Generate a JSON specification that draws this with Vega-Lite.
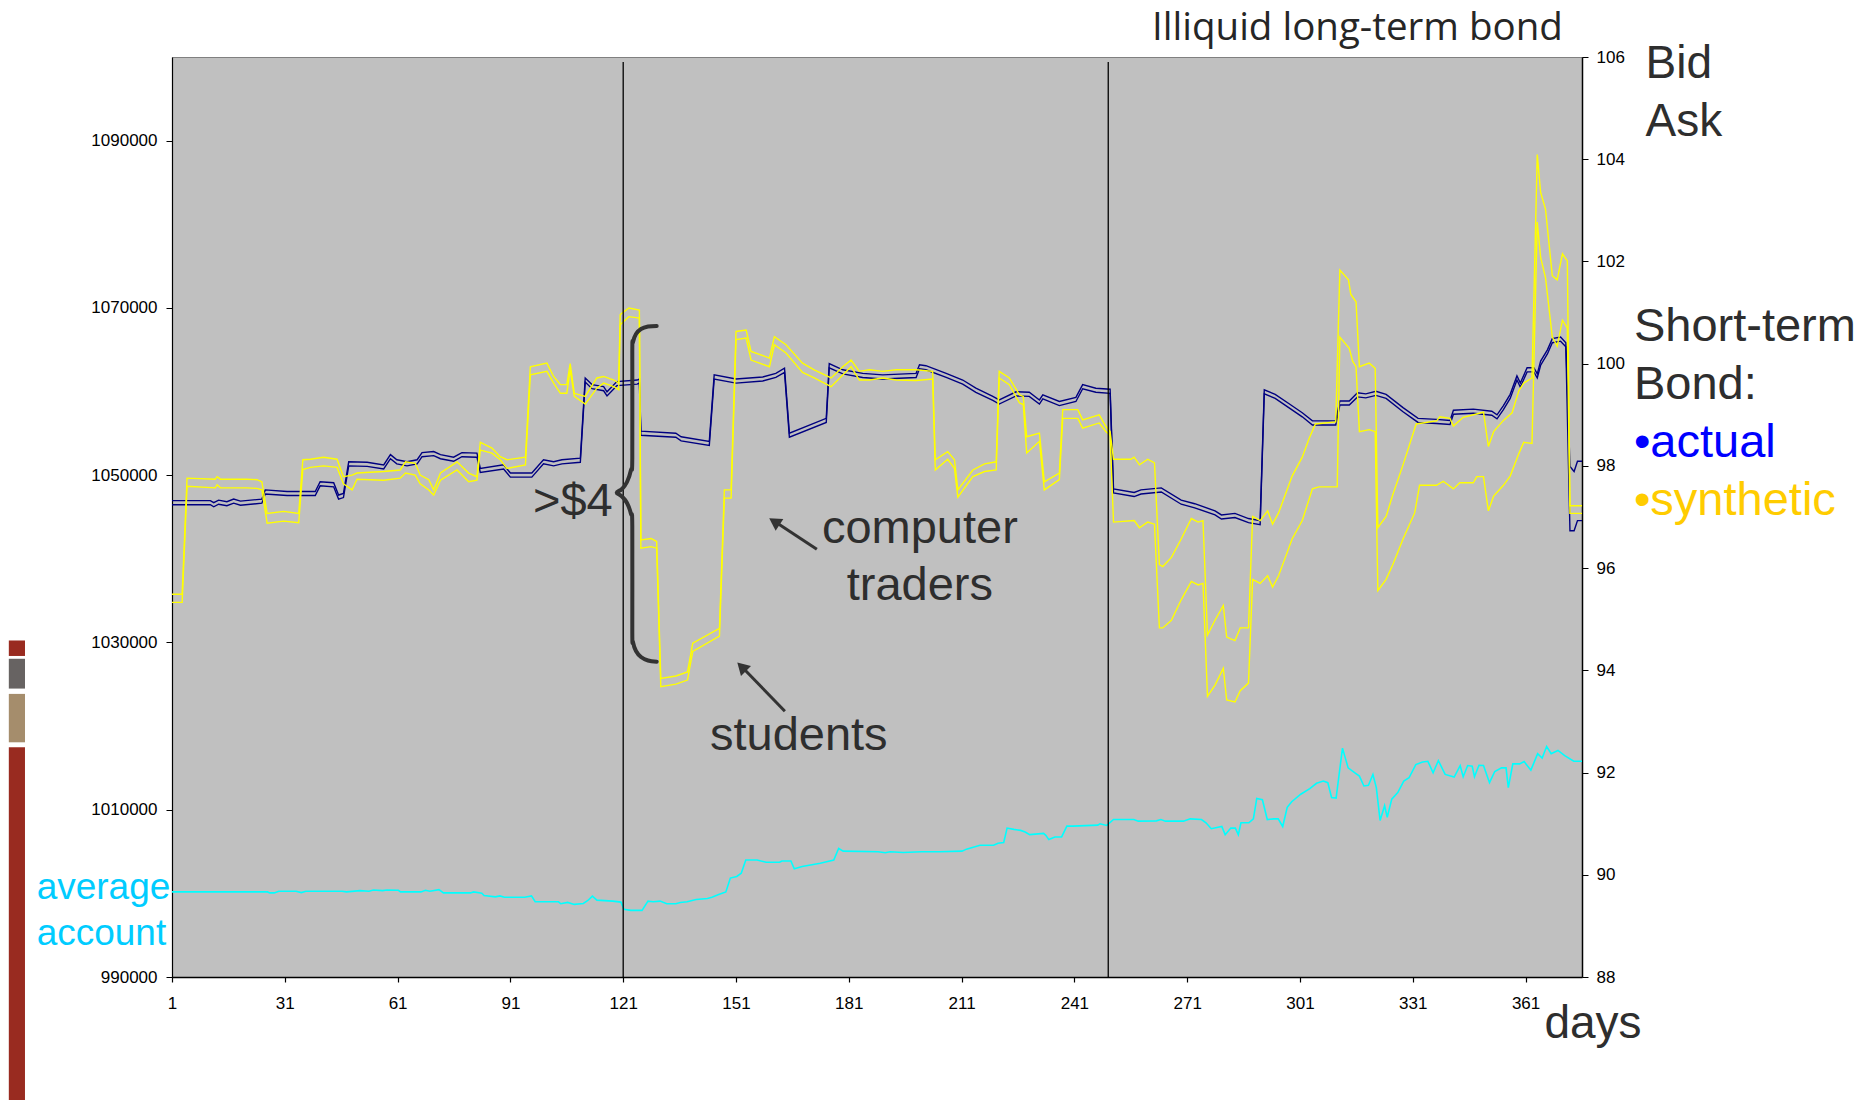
{
  "$schema": "https://vega.github.io/schema/vega-lite/v6.json",
  "width": 1410,
  "height": 920,
  "autosize": {"type": "none"},
  "padding": {"left": 172, "top": 57, "right": 286, "bottom": 123},
  "background": "white",
  "config": {
    "view": {"fill": "#C0C0C0", "stroke": "#808080", "strokeWidth": 1},
    "axis": {"grid": false, "domainColor": "#000000", "tickColor": "#000000", "labelColor": "#000000", "labelFont": "Liberation Sans", "labelFontSize": 17, "labelFlush": false, "labelOverlap": false},
    "axisX": {"tickSize": 5, "labelPadding": 13, "domainWidth": 1.5, "tickWidth": 1.2},
    "axisLeft": {"tickSize": 6, "labelPadding": 9, "domainWidth": 1.2},
    "axisRight": {"tickSize": 6, "labelPadding": 8, "domainWidth": 1.5},
    "text": {"font": "Liberation Sans"}
  },
  "datasets": {
    "account": [
      {"d":1,"a":1000174},{"d":26.4,"a":1000174},{"d":27,"a":1000056},{"d":28.2,"a":1000056},{"d":29.4,"a":1000253},{"d":34,"a":1000253},{"d":35.4,"a":1000096},{"d":36.6,"a":1000253},{"d":46.2,"a":1000253},{"d":47.4,"a":1000174},{"d":51,"a":1000330},{"d":53.4,"a":1000253},{"d":54.6,"a":1000410},{"d":57,"a":1000330},{"d":58.2,"a":1000410},{"d":61.2,"a":1000370},{"d":61.8,"a":1000174},{"d":67.2,"a":1000174},{"d":68.4,"a":1000370},{"d":69.6,"a":1000253},{"d":72,"a":1000450},{"d":73.2,"a":1000056},{"d":80.4,"a":1000056},{"d":81.2,"a":1000174},{"d":83.4,"a":1000017},{"d":84,"a":999740},{"d":87,"a":999583},{"d":88.2,"a":999701},{"d":89.4,"a":999543},{"d":94.8,"a":999543},{"d":96.6,"a":999701},{"d":97.6,"a":998993},{"d":103.8,"a":998993},{"d":104.4,"a":998757},{"d":106.2,"a":998914},{"d":108,"a":998679},{"d":110.4,"a":998796},{"d":111.6,"a":999150},{"d":112.8,"a":999662},{"d":114,"a":999190},{"d":118.2,"a":999072},{"d":120.4,"a":998954},{"d":121.2,"a":998089},{"d":123,"a":997970},{"d":126,"a":997970},{"d":127.6,"a":999072},{"d":129,"a":998993},{"d":130.8,"a":999072},{"d":132.6,"a":998757},{"d":135,"a":998757},{"d":136.2,"a":998914},{"d":138,"a":998993},{"d":140.4,"a":999269},{"d":143.4,"a":999387},{"d":144.6,"a":999543},{"d":146.4,"a":999859},{"d":148.3,"a":1000174},{"d":149.5,"a":1001826},{"d":151.2,"a":1002023},{"d":152.4,"a":1002416},{"d":153.6,"a":1003990},{"d":156.6,"a":1003990},{"d":159,"a":1003715},{"d":162.6,"a":1003715},{"d":163.2,"a":1003872},{"d":165.6,"a":1003872},{"d":166.5,"a":1002928},{"d":168.6,"a":1003203},{"d":173.4,"a":1003597},{"d":177,"a":1003990},{"d":178.3,"a":1005367},{"d":179.5,"a":1005052},{"d":188.8,"a":1004973},{"d":190.7,"a":1004855},{"d":192,"a":1004973},{"d":195.5,"a":1004894},{"d":200.3,"a":1004973},{"d":205.1,"a":1004973},{"d":211.1,"a":1005052},{"d":212.3,"a":1005288},{"d":214.1,"a":1005524},{"d":215.9,"a":1005760},{"d":219.5,"a":1005760},{"d":220.7,"a":1005996},{"d":222.2,"a":1006075},{"d":223.1,"a":1007806},{"d":224.9,"a":1007648},{"d":226.7,"a":1007530},{"d":227.9,"a":1007333},{"d":229.1,"a":1007019},{"d":232.8,"a":1007176},{"d":233.4,"a":1006940},{"d":234.2,"a":1006429},{"d":235.8,"a":1006744},{"d":237.6,"a":1006744},{"d":239,"a":1008042},{"d":240.6,"a":1008042},{"d":247.2,"a":1008160},{"d":247.8,"a":1008318},{"d":249.6,"a":1008121},{"d":251.4,"a":1008829},{"d":256.8,"a":1008829},{"d":258,"a":1008632},{"d":262.8,"a":1008671},{"d":264,"a":1008829},{"d":265.2,"a":1008632},{"d":270,"a":1008632},{"d":271.8,"a":1008908},{"d":274.8,"a":1008829},{"d":276,"a":1008435},{"d":277.4,"a":1007727},{"d":280.2,"a":1008003},{"d":281.1,"a":1007019},{"d":282.6,"a":1007806},{"d":283.8,"a":1007806},{"d":284.6,"a":1007019},{"d":285.3,"a":1008435},{"d":287.4,"a":1008435},{"d":288.6,"a":1008908},{"d":289.5,"a":1011346},{"d":291,"a":1011188},{"d":292.3,"a":1008829},{"d":294,"a":1008908},{"d":295.2,"a":1008908},{"d":296.4,"a":1007991},{"d":297.6,"a":1010284},{"d":298.8,"a":1010953},{"d":301.2,"a":1011857},{"d":303.6,"a":1012526},{"d":305.4,"a":1013156},{"d":307.2,"a":1013431},{"d":308.4,"a":1013234},{"d":309.4,"a":1011464},{"d":310.6,"a":1011385},{"d":312.3,"a":1017365},{"d":313.8,"a":1015005},{"d":315.6,"a":1014415},{"d":316.8,"a":1014021},{"d":318,"a":1012841},{"d":319.2,"a":1012920},{"d":320.4,"a":1014218},{"d":321.3,"a":1012645},{"d":322.3,"a":1008711},{"d":323.5,"a":1010481},{"d":324.2,"a":1009104},{"d":325.4,"a":1011267},{"d":327,"a":1012054},{"d":328.6,"a":1013431},{"d":330,"a":1013824},{"d":331.8,"a":1015398},{"d":333.6,"a":1015713},{"d":335,"a":1015792},{"d":336.4,"a":1014415},{"d":337.8,"a":1015870},{"d":339.6,"a":1014218},{"d":342,"a":1013903},{"d":343.6,"a":1015280},{"d":344.4,"a":1013942},{"d":345.6,"a":1015280},{"d":346.8,"a":1015202},{"d":347.4,"a":1013942},{"d":348.6,"a":1015320},{"d":349.8,"a":1015280},{"d":351.4,"a":1013234},{"d":352.8,"a":1014572},{"d":354.6,"a":1015005},{"d":355.8,"a":1015005},{"d":356.4,"a":1012645},{"d":357.6,"a":1015477},{"d":359.4,"a":1015477},{"d":360.6,"a":1015752},{"d":362.4,"a":1014730},{"d":364.2,"a":1016696},{"d":365.4,"a":1016185},{"d":366.6,"a":1017562},{"d":367.8,"a":1016696},{"d":369.6,"a":1017090},{"d":371.4,"a":1016460},{"d":373.8,"a":1015792},{"d":376,"a":1015792}
    ],
    "actual": [
      {"s":"ask","d":1,"v":97.32},{"s":"ask","d":11.2,"v":97.32},{"s":"ask","d":12.1,"v":97.28},{"s":"ask","d":13.4,"v":97.33},{"s":"ask","d":15.6,"v":97.3},{"s":"ask","d":17.4,"v":97.35},{"s":"ask","d":19.2,"v":97.31},{"s":"ask","d":24.9,"v":97.35},{"s":"ask","d":25.8,"v":97.53},{"s":"ask","d":31.6,"v":97.5},{"s":"ask","d":39.1,"v":97.5},{"s":"ask","d":40.4,"v":97.69},{"s":"ask","d":44,"v":97.67},{"s":"ask","d":45.3,"v":97.43},{"s":"ask","d":46.6,"v":97.46},{"s":"ask","d":48,"v":98.08},{"s":"ask","d":52.9,"v":98.07},{"s":"ask","d":57.3,"v":98.02},{"s":"ask","d":59.1,"v":98.22},{"s":"ask","d":60.8,"v":98.12},{"s":"ask","d":63.5,"v":98.08},{"s":"ask","d":66.2,"v":98.12},{"s":"ask","d":67.5,"v":98.26},{"s":"ask","d":70.6,"v":98.28},{"s":"ask","d":72.4,"v":98.22},{"s":"ask","d":75.9,"v":98.17},{"s":"ask","d":78.1,"v":98.26},{"s":"ask","d":82.1,"v":98.25},{"s":"ask","d":83,"v":97.95},{"s":"ask","d":89.2,"v":98.02},{"s":"ask","d":91,"v":97.86},{"s":"ask","d":96.7,"v":97.86},{"s":"ask","d":99.8,"v":98.12},{"s":"ask","d":102.5,"v":98.08},{"s":"ask","d":104.7,"v":98.12},{"s":"ask","d":109.6,"v":98.15},{"s":"ask","d":110.9,"v":99.72},{"s":"ask","d":112.7,"v":99.59},{"s":"ask","d":115.8,"v":99.55},{"s":"ask","d":116.7,"v":99.45},{"s":"ask","d":119.3,"v":99.65},{"s":"ask","d":124.7,"v":99.68},{"s":"ask","d":125.3,"v":99.7},{"s":"ask","d":125.7,"v":98.68},{"s":"ask","d":135,"v":98.64},{"s":"ask","d":136.4,"v":98.57},{"s":"ask","d":143.9,"v":98.48},{"s":"ask","d":145.2,"v":99.78},{"s":"ask","d":151,"v":99.7},{"s":"ask","d":158.1,"v":99.74},{"s":"ask","d":161.6,"v":99.81},{"s":"ask","d":163.9,"v":99.91},{"s":"ask","d":165.2,"v":98.64},{"s":"ask","d":175,"v":98.93},{"s":"ask","d":175.8,"v":100.0},{"s":"ask","d":179.4,"v":99.88},{"s":"ask","d":184.7,"v":99.81},{"s":"ask","d":190,"v":99.78},{"s":"ask","d":198.9,"v":99.81},{"s":"ask","d":199.8,"v":99.98},{"s":"ask","d":201.5,"v":99.96},{"s":"ask","d":206.9,"v":99.81},{"s":"ask","d":211.3,"v":99.68},{"s":"ask","d":214.8,"v":99.52},{"s":"ask","d":219.3,"v":99.36},{"s":"ask","d":221,"v":99.29},{"s":"ask","d":225.5,"v":99.45},{"s":"ask","d":229,"v":99.44},{"s":"ask","d":231.7,"v":99.29},{"s":"ask","d":232.6,"v":99.39},{"s":"ask","d":237,"v":99.26},{"s":"ask","d":241.4,"v":99.34},{"s":"ask","d":243.2,"v":99.59},{"s":"ask","d":246.7,"v":99.52},{"s":"ask","d":250.5,"v":99.5},{"s":"ask","d":251.4,"v":97.55},{"s":"ask","d":256.9,"v":97.48},{"s":"ask","d":258.7,"v":97.53},{"s":"ask","d":264.1,"v":97.57},{"s":"ask","d":269.4,"v":97.33},{"s":"ask","d":273,"v":97.26},{"s":"ask","d":278.4,"v":97.12},{"s":"ask","d":280.1,"v":97.04},{"s":"ask","d":283.7,"v":97.07},{"s":"ask","d":287.3,"v":96.97},{"s":"ask","d":290.4,"v":96.93},{"s":"ask","d":291.5,"v":99.49},{"s":"ask","d":294.4,"v":99.4},{"s":"ask","d":298,"v":99.22},{"s":"ask","d":301.6,"v":99.04},{"s":"ask","d":304.3,"v":98.88},{"s":"ask","d":310.5,"v":98.88},{"s":"ask","d":311.6,"v":99.27},{"s":"ask","d":314.1,"v":99.27},{"s":"ask","d":316.3,"v":99.43},{"s":"ask","d":318.5,"v":99.41},{"s":"ask","d":321.2,"v":99.46},{"s":"ask","d":323.9,"v":99.4},{"s":"ask","d":328.4,"v":99.14},{"s":"ask","d":332.4,"v":98.93},{"s":"ask","d":337.3,"v":98.91},{"s":"ask","d":340.9,"v":98.89},{"s":"ask","d":341.8,"v":99.09},{"s":"ask","d":347.1,"v":99.11},{"s":"ask","d":352,"v":99.07},{"s":"ask","d":353.4,"v":99.0},{"s":"ask","d":355.1,"v":99.18},{"s":"ask","d":356.9,"v":99.4},{"s":"ask","d":358.7,"v":99.76},{"s":"ask","d":359.6,"v":99.62},{"s":"ask","d":361.4,"v":99.92},{"s":"ask","d":363.2,"v":99.92},{"s":"ask","d":364.1,"v":99.8},{"s":"ask","d":365,"v":100.05},{"s":"ask","d":366.8,"v":100.27},{"s":"ask","d":368.1,"v":100.49},{"s":"ask","d":370.3,"v":100.52},{"s":"ask","d":371.7,"v":100.41},{"s":"ask","d":372.8,"v":97.99},{"s":"ask","d":373.9,"v":97.89},{"s":"ask","d":374.8,"v":98.09},{"s":"ask","d":376,"v":98.09},
      {"s":"bid","d":1,"v":97.24},{"s":"bid","d":11.2,"v":97.24},{"s":"bid","d":12.1,"v":97.2},{"s":"bid","d":13.4,"v":97.25},{"s":"bid","d":15.6,"v":97.22},{"s":"bid","d":17.4,"v":97.27},{"s":"bid","d":19.2,"v":97.23},{"s":"bid","d":24.9,"v":97.27},{"s":"bid","d":25.8,"v":97.45},{"s":"bid","d":31.6,"v":97.42},{"s":"bid","d":39.1,"v":97.42},{"s":"bid","d":40.4,"v":97.61},{"s":"bid","d":44,"v":97.59},{"s":"bid","d":45.3,"v":97.35},{"s":"bid","d":46.6,"v":97.38},{"s":"bid","d":48,"v":98.0},{"s":"bid","d":52.9,"v":97.99},{"s":"bid","d":57.3,"v":97.94},{"s":"bid","d":59.1,"v":98.14},{"s":"bid","d":60.8,"v":98.04},{"s":"bid","d":63.5,"v":98.0},{"s":"bid","d":66.2,"v":98.04},{"s":"bid","d":67.5,"v":98.18},{"s":"bid","d":70.6,"v":98.2},{"s":"bid","d":72.4,"v":98.14},{"s":"bid","d":75.9,"v":98.09},{"s":"bid","d":78.1,"v":98.18},{"s":"bid","d":82.1,"v":98.17},{"s":"bid","d":83,"v":97.87},{"s":"bid","d":89.2,"v":97.94},{"s":"bid","d":91,"v":97.78},{"s":"bid","d":96.7,"v":97.78},{"s":"bid","d":99.8,"v":98.04},{"s":"bid","d":102.5,"v":98.0},{"s":"bid","d":104.7,"v":98.04},{"s":"bid","d":109.6,"v":98.07},{"s":"bid","d":110.9,"v":99.64},{"s":"bid","d":112.7,"v":99.51},{"s":"bid","d":115.8,"v":99.47},{"s":"bid","d":116.7,"v":99.37},{"s":"bid","d":119.3,"v":99.57},{"s":"bid","d":124.7,"v":99.6},{"s":"bid","d":125.3,"v":99.62},{"s":"bid","d":125.7,"v":98.6},{"s":"bid","d":135,"v":98.56},{"s":"bid","d":136.4,"v":98.49},{"s":"bid","d":143.9,"v":98.4},{"s":"bid","d":145.2,"v":99.7},{"s":"bid","d":151,"v":99.62},{"s":"bid","d":158.1,"v":99.66},{"s":"bid","d":161.6,"v":99.73},{"s":"bid","d":163.9,"v":99.83},{"s":"bid","d":165.2,"v":98.56},{"s":"bid","d":175,"v":98.85},{"s":"bid","d":175.8,"v":99.92},{"s":"bid","d":179.4,"v":99.8},{"s":"bid","d":184.7,"v":99.73},{"s":"bid","d":190,"v":99.7},{"s":"bid","d":198.9,"v":99.73},{"s":"bid","d":199.8,"v":99.9},{"s":"bid","d":201.5,"v":99.88},{"s":"bid","d":206.9,"v":99.73},{"s":"bid","d":211.3,"v":99.6},{"s":"bid","d":214.8,"v":99.44},{"s":"bid","d":219.3,"v":99.28},{"s":"bid","d":221,"v":99.21},{"s":"bid","d":225.5,"v":99.37},{"s":"bid","d":229,"v":99.36},{"s":"bid","d":231.7,"v":99.21},{"s":"bid","d":232.6,"v":99.31},{"s":"bid","d":237,"v":99.18},{"s":"bid","d":241.4,"v":99.26},{"s":"bid","d":243.2,"v":99.51},{"s":"bid","d":246.7,"v":99.44},{"s":"bid","d":250.5,"v":99.42},{"s":"bid","d":251.4,"v":97.47},{"s":"bid","d":256.9,"v":97.4},{"s":"bid","d":258.7,"v":97.45},{"s":"bid","d":264.1,"v":97.49},{"s":"bid","d":269.4,"v":97.25},{"s":"bid","d":273,"v":97.18},{"s":"bid","d":278.4,"v":97.04},{"s":"bid","d":280.1,"v":96.96},{"s":"bid","d":283.7,"v":96.99},{"s":"bid","d":287.3,"v":96.89},{"s":"bid","d":290.4,"v":96.85},{"s":"bid","d":291.5,"v":99.41},{"s":"bid","d":294.4,"v":99.32},{"s":"bid","d":298,"v":99.14},{"s":"bid","d":301.6,"v":98.96},{"s":"bid","d":304.3,"v":98.8},{"s":"bid","d":310.5,"v":98.8},{"s":"bid","d":311.6,"v":99.19},{"s":"bid","d":314.1,"v":99.19},{"s":"bid","d":316.3,"v":99.35},{"s":"bid","d":318.5,"v":99.33},{"s":"bid","d":321.2,"v":99.38},{"s":"bid","d":323.9,"v":99.32},{"s":"bid","d":328.4,"v":99.06},{"s":"bid","d":332.4,"v":98.85},{"s":"bid","d":337.3,"v":98.83},{"s":"bid","d":340.9,"v":98.81},{"s":"bid","d":341.8,"v":99.01},{"s":"bid","d":347.1,"v":99.03},{"s":"bid","d":352,"v":98.99},{"s":"bid","d":353.4,"v":98.92},{"s":"bid","d":355.1,"v":99.1},{"s":"bid","d":356.9,"v":99.32},{"s":"bid","d":358.7,"v":99.68},{"s":"bid","d":359.6,"v":99.54},{"s":"bid","d":361.4,"v":99.84},{"s":"bid","d":363.2,"v":99.84},{"s":"bid","d":364.1,"v":99.72},{"s":"bid","d":365,"v":99.97},{"s":"bid","d":366.8,"v":100.19},{"s":"bid","d":368.1,"v":100.41},{"s":"bid","d":370.3,"v":100.44},{"s":"bid","d":371.7,"v":100.33},{"s":"bid","d":372.8,"v":96.73},{"s":"bid","d":373.9,"v":96.73},{"s":"bid","d":374.8,"v":96.93},{"s":"bid","d":376,"v":96.93}
    ],
    "synthetic": [
      {"s":"ask","d":1,"v":95.49},{"s":"ask","d":3.7,"v":95.49},{"s":"ask","d":5,"v":97.76},{"s":"ask","d":12.5,"v":97.74},{"s":"ask","d":13,"v":97.79},{"s":"ask","d":13.9,"v":97.74},{"s":"ask","d":20.9,"v":97.74},{"s":"ask","d":23.6,"v":97.73},{"s":"ask","d":24.9,"v":97.69},{"s":"ask","d":26.3,"v":97.07},{"s":"ask","d":30.7,"v":97.11},{"s":"ask","d":34.7,"v":97.07},{"s":"ask","d":35.8,"v":98.12},{"s":"ask","d":37.8,"v":98.13},{"s":"ask","d":41.3,"v":98.17},{"s":"ask","d":44.9,"v":98.13},{"s":"ask","d":46.6,"v":97.79},{"s":"ask","d":48.9,"v":97.82},{"s":"ask","d":50.2,"v":97.86},{"s":"ask","d":57.3,"v":97.89},{"s":"ask","d":61.7,"v":97.92},{"s":"ask","d":63.1,"v":98.08},{"s":"ask","d":65.7,"v":98.05},{"s":"ask","d":67,"v":97.82},{"s":"ask","d":69.3,"v":97.73},{"s":"ask","d":70.6,"v":97.53},{"s":"ask","d":72.4,"v":97.86},{"s":"ask","d":76.8,"v":98.08},{"s":"ask","d":79.9,"v":97.86},{"s":"ask","d":82.1,"v":97.79},{"s":"ask","d":83,"v":98.46},{"s":"ask","d":86.1,"v":98.35},{"s":"ask","d":88.3,"v":98.18},{"s":"ask","d":90.1,"v":98.12},{"s":"ask","d":95,"v":98.17},{"s":"ask","d":96.3,"v":99.94},{"s":"ask","d":100.7,"v":100.01},{"s":"ask","d":102.5,"v":99.75},{"s":"ask","d":104.3,"v":99.59},{"s":"ask","d":106,"v":99.59},{"s":"ask","d":106.9,"v":100.0},{"s":"ask","d":108,"v":99.42},{"s":"ask","d":110.9,"v":99.36},{"s":"ask","d":114,"v":99.72},{"s":"ask","d":115.8,"v":99.75},{"s":"ask","d":118.5,"v":99.68},{"s":"ask","d":119.8,"v":99.62},{"s":"ask","d":120.2,"v":100.96},{"s":"ask","d":122.5,"v":101.09},{"s":"ask","d":125.3,"v":101.05},{"s":"ask","d":125.7,"v":96.55},{"s":"ask","d":128.4,"v":96.58},{"s":"ask","d":129.9,"v":96.52},{"s":"ask","d":131,"v":93.84},{"s":"ask","d":135,"v":93.89},{"s":"ask","d":138.1,"v":93.97},{"s":"ask","d":139.5,"v":94.53},{"s":"ask","d":146.6,"v":94.82},{"s":"ask","d":147.9,"v":97.53},{"s":"ask","d":149.7,"v":97.53},{"s":"ask","d":151,"v":100.63},{"s":"ask","d":153.7,"v":100.66},{"s":"ask","d":155,"v":100.24},{"s":"ask","d":159.9,"v":100.11},{"s":"ask","d":161.2,"v":100.53},{"s":"ask","d":164.3,"v":100.37},{"s":"ask","d":168.7,"v":100.01},{"s":"ask","d":171.8,"v":99.88},{"s":"ask","d":176.3,"v":99.72},{"s":"ask","d":179.4,"v":99.94},{"s":"ask","d":181.6,"v":100.07},{"s":"ask","d":183.8,"v":99.85},{"s":"ask","d":186.5,"v":99.88},{"s":"ask","d":190,"v":99.85},{"s":"ask","d":193.6,"v":99.88},{"s":"ask","d":198.9,"v":99.88},{"s":"ask","d":203.3,"v":99.85},{"s":"ask","d":204,"v":98.12},{"s":"ask","d":207.3,"v":98.28},{"s":"ask","d":209.1,"v":98.12},{"s":"ask","d":210,"v":97.53},{"s":"ask","d":214,"v":97.92},{"s":"ask","d":217.1,"v":98.04},{"s":"ask","d":220.2,"v":98.08},{"s":"ask","d":221,"v":99.85},{"s":"ask","d":223.7,"v":99.72},{"s":"ask","d":226.4,"v":99.39},{"s":"ask","d":227.4,"v":99.36},{"s":"ask","d":228.3,"v":98.57},{"s":"ask","d":231.7,"v":98.64},{"s":"ask","d":233,"v":97.69},{"s":"ask","d":237,"v":97.86},{"s":"ask","d":237.9,"v":99.1},{"s":"ask","d":241.9,"v":99.1},{"s":"ask","d":243.2,"v":98.9},{"s":"ask","d":247.6,"v":99.0},{"s":"ask","d":249.4,"v":98.77},{"s":"ask","d":250.5,"v":98.67},{"s":"ask","d":251.4,"v":98.13},{"s":"ask","d":256,"v":98.13},{"s":"ask","d":256.9,"v":98.17},{"s":"ask","d":258.3,"v":98.02},{"s":"ask","d":260.5,"v":98.13},{"s":"ask","d":262.3,"v":98.06},{"s":"ask","d":263.6,"v":96.07},{"s":"ask","d":264.5,"v":96.03},{"s":"ask","d":266.8,"v":96.21},{"s":"ask","d":269.4,"v":96.57},{"s":"ask","d":272.1,"v":96.97},{"s":"ask","d":273.9,"v":96.9},{"s":"ask","d":275.2,"v":96.93},{"s":"ask","d":276.4,"v":94.69},{"s":"ask","d":278.4,"v":94.98},{"s":"ask","d":280.6,"v":95.27},{"s":"ask","d":281.5,"v":94.65},{"s":"ask","d":283.7,"v":94.58},{"s":"ask","d":285.1,"v":94.83},{"s":"ask","d":287.3,"v":94.83},{"s":"ask","d":288.4,"v":97.01},{"s":"ask","d":290.4,"v":96.93},{"s":"ask","d":292.4,"v":97.12},{"s":"ask","d":293.7,"v":96.86},{"s":"ask","d":295.3,"v":97.08},{"s":"ask","d":297.1,"v":97.44},{"s":"ask","d":298.9,"v":97.8},{"s":"ask","d":301.6,"v":98.17},{"s":"ask","d":303.4,"v":98.53},{"s":"ask","d":305.1,"v":98.82},{"s":"ask","d":310.5,"v":98.86},{"s":"ask","d":311.6,"v":101.83},{"s":"ask","d":313.9,"v":101.64},{"s":"ask","d":314.5,"v":101.36},{"s":"ask","d":315.9,"v":101.21},{"s":"ask","d":316.8,"v":99.94},{"s":"ask","d":319.4,"v":100.01},{"s":"ask","d":321,"v":99.91},{"s":"ask","d":321.7,"v":96.79},{"s":"ask","d":323.9,"v":97.01},{"s":"ask","d":325.7,"v":97.44},{"s":"ask","d":328.4,"v":98.02},{"s":"ask","d":331.9,"v":98.82},{"s":"ask","d":337.3,"v":98.88},{"s":"ask","d":338.2,"v":98.96},{"s":"ask","d":340.9,"v":98.93},{"s":"ask","d":341.8,"v":98.78},{"s":"ask","d":344.4,"v":98.95},{"s":"ask","d":349.8,"v":99.05},{"s":"ask","d":351.1,"v":98.38},{"s":"ask","d":352.5,"v":98.67},{"s":"ask","d":355.1,"v":98.89},{"s":"ask","d":357.4,"v":99.04},{"s":"ask","d":359.2,"v":99.47},{"s":"ask","d":360.5,"v":99.62},{"s":"ask","d":362.7,"v":99.72},{"s":"ask","d":364.1,"v":104.09},{"s":"ask","d":365,"v":103.35},{"s":"ask","d":366.3,"v":103.02},{"s":"ask","d":368.1,"v":101.72},{"s":"ask","d":369.4,"v":101.64},{"s":"ask","d":370.8,"v":102.15},{"s":"ask","d":372.1,"v":102.01},{"s":"ask","d":372.8,"v":97.22},{"s":"ask","d":376,"v":97.22},
      {"s":"bid","d":1,"v":95.33},{"s":"bid","d":3.7,"v":95.33},{"s":"bid","d":5,"v":97.6},{"s":"bid","d":12.5,"v":97.57},{"s":"bid","d":13,"v":97.63},{"s":"bid","d":13.9,"v":97.57},{"s":"bid","d":20.9,"v":97.57},{"s":"bid","d":23.6,"v":97.56},{"s":"bid","d":24.9,"v":97.53},{"s":"bid","d":26.3,"v":96.88},{"s":"bid","d":30.7,"v":96.92},{"s":"bid","d":34.7,"v":96.89},{"s":"bid","d":35.8,"v":97.93},{"s":"bid","d":37.8,"v":97.97},{"s":"bid","d":41.3,"v":98.0},{"s":"bid","d":44.9,"v":97.97},{"s":"bid","d":46.6,"v":97.65},{"s":"bid","d":48.9,"v":97.53},{"s":"bid","d":50.2,"v":97.74},{"s":"bid","d":57.3,"v":97.72},{"s":"bid","d":61.7,"v":97.76},{"s":"bid","d":63.1,"v":97.86},{"s":"bid","d":65.7,"v":97.82},{"s":"bid","d":67,"v":97.65},{"s":"bid","d":69.3,"v":97.53},{"s":"bid","d":70.6,"v":97.43},{"s":"bid","d":72.4,"v":97.72},{"s":"bid","d":76.8,"v":97.92},{"s":"bid","d":79.9,"v":97.69},{"s":"bid","d":82.1,"v":97.72},{"s":"bid","d":83,"v":98.31},{"s":"bid","d":86.1,"v":98.25},{"s":"bid","d":88.3,"v":98.12},{"s":"bid","d":90.1,"v":97.95},{"s":"bid","d":95,"v":98.02},{"s":"bid","d":96.3,"v":99.78},{"s":"bid","d":100.7,"v":99.85},{"s":"bid","d":102.5,"v":99.62},{"s":"bid","d":104.3,"v":99.42},{"s":"bid","d":106,"v":99.42},{"s":"bid","d":106.9,"v":99.88},{"s":"bid","d":108,"v":99.36},{"s":"bid","d":110.9,"v":99.21},{"s":"bid","d":114,"v":99.52},{"s":"bid","d":115.8,"v":99.62},{"s":"bid","d":118.5,"v":99.55},{"s":"bid","d":119.8,"v":99.49},{"s":"bid","d":120.2,"v":100.76},{"s":"bid","d":122.5,"v":100.92},{"s":"bid","d":125.3,"v":100.89},{"s":"bid","d":125.7,"v":96.39},{"s":"bid","d":128.4,"v":96.42},{"s":"bid","d":129.9,"v":96.39},{"s":"bid","d":131,"v":93.68},{"s":"bid","d":135,"v":93.73},{"s":"bid","d":138.1,"v":93.81},{"s":"bid","d":139.5,"v":94.37},{"s":"bid","d":146.6,"v":94.67},{"s":"bid","d":147.9,"v":97.37},{"s":"bid","d":149.7,"v":97.37},{"s":"bid","d":151,"v":100.47},{"s":"bid","d":153.7,"v":100.5},{"s":"bid","d":155,"v":100.07},{"s":"bid","d":159.9,"v":99.94},{"s":"bid","d":161.2,"v":100.37},{"s":"bid","d":164.3,"v":100.21},{"s":"bid","d":168.7,"v":99.83},{"s":"bid","d":171.8,"v":99.72},{"s":"bid","d":176.3,"v":99.55},{"s":"bid","d":179.4,"v":99.78},{"s":"bid","d":181.6,"v":99.94},{"s":"bid","d":183.8,"v":99.68},{"s":"bid","d":186.5,"v":99.68},{"s":"bid","d":190,"v":99.72},{"s":"bid","d":193.6,"v":99.68},{"s":"bid","d":198.9,"v":99.67},{"s":"bid","d":203.3,"v":99.7},{"s":"bid","d":204,"v":97.92},{"s":"bid","d":207.3,"v":98.13},{"s":"bid","d":209.1,"v":97.95},{"s":"bid","d":210,"v":97.39},{"s":"bid","d":214,"v":97.79},{"s":"bid","d":217.1,"v":97.89},{"s":"bid","d":220.2,"v":97.92},{"s":"bid","d":221,"v":99.72},{"s":"bid","d":223.7,"v":99.59},{"s":"bid","d":226.4,"v":99.23},{"s":"bid","d":227.4,"v":99.2},{"s":"bid","d":228.3,"v":98.25},{"s":"bid","d":231.7,"v":98.48},{"s":"bid","d":233,"v":97.53},{"s":"bid","d":237,"v":97.73},{"s":"bid","d":237.9,"v":98.93},{"s":"bid","d":241.9,"v":98.93},{"s":"bid","d":243.2,"v":98.74},{"s":"bid","d":247.6,"v":98.84},{"s":"bid","d":249.4,"v":98.67},{"s":"bid","d":250.5,"v":98.6},{"s":"bid","d":251.4,"v":96.9},{"s":"bid","d":256.9,"v":96.93},{"s":"bid","d":258.3,"v":96.79},{"s":"bid","d":260.5,"v":96.9},{"s":"bid","d":262.3,"v":96.86},{"s":"bid","d":263.6,"v":94.83},{"s":"bid","d":264.5,"v":94.83},{"s":"bid","d":266.8,"v":94.98},{"s":"bid","d":269.4,"v":95.38},{"s":"bid","d":272.1,"v":95.74},{"s":"bid","d":273.9,"v":95.67},{"s":"bid","d":275.2,"v":95.7},{"s":"bid","d":276.4,"v":93.49},{"s":"bid","d":278.4,"v":93.71},{"s":"bid","d":280.6,"v":94.04},{"s":"bid","d":281.5,"v":93.42},{"s":"bid","d":283.7,"v":93.38},{"s":"bid","d":285.1,"v":93.6},{"s":"bid","d":287.3,"v":93.75},{"s":"bid","d":288.4,"v":95.78},{"s":"bid","d":290.4,"v":95.7},{"s":"bid","d":292.4,"v":95.85},{"s":"bid","d":293.7,"v":95.63},{"s":"bid","d":295.3,"v":95.85},{"s":"bid","d":297.1,"v":96.21},{"s":"bid","d":298.9,"v":96.57},{"s":"bid","d":301.6,"v":96.93},{"s":"bid","d":304.3,"v":97.55},{"s":"bid","d":306,"v":97.59},{"s":"bid","d":310.9,"v":97.59},{"s":"bid","d":311.6,"v":100.52},{"s":"bid","d":314.1,"v":100.3},{"s":"bid","d":315,"v":100.05},{"s":"bid","d":315.9,"v":99.94},{"s":"bid","d":316.8,"v":98.67},{"s":"bid","d":319.4,"v":98.71},{"s":"bid","d":321,"v":98.67},{"s":"bid","d":321.7,"v":95.56},{"s":"bid","d":323.9,"v":95.78},{"s":"bid","d":325.7,"v":96.07},{"s":"bid","d":328.4,"v":96.57},{"s":"bid","d":331.5,"v":97.08},{"s":"bid","d":332.8,"v":97.62},{"s":"bid","d":337.3,"v":97.62},{"s":"bid","d":339.1,"v":97.7},{"s":"bid","d":341.8,"v":97.55},{"s":"bid","d":343.5,"v":97.67},{"s":"bid","d":347.1,"v":97.67},{"s":"bid","d":348,"v":97.79},{"s":"bid","d":349.8,"v":97.79},{"s":"bid","d":351.1,"v":97.12},{"s":"bid","d":352.5,"v":97.41},{"s":"bid","d":355.1,"v":97.62},{"s":"bid","d":356.9,"v":97.8},{"s":"bid","d":359.2,"v":98.24},{"s":"bid","d":360.5,"v":98.46},{"s":"bid","d":362.7,"v":98.44},{"s":"bid","d":364.1,"v":102.77},{"s":"bid","d":365,"v":102.08},{"s":"bid","d":366.3,"v":101.68},{"s":"bid","d":368.1,"v":100.52},{"s":"bid","d":369.4,"v":100.34},{"s":"bid","d":370.8,"v":100.85},{"s":"bid","d":372.1,"v":100.7},{"s":"bid","d":372.8,"v":97.07},{"s":"bid","d":376,"v":97.07}
    ],
    "brace": [
      {"i":1,"d":129.91,"v":100.737},{"i":2,"d":127.6,"v":100.727},{"i":3,"d":125.73,"v":100.678},{"i":4,"d":124.4,"v":100.58},{"i":5,"d":123.61,"v":100.424},{"i":6,"d":123.42,"v":100.229},{"i":7,"d":123.42,"v":98.155},{"i":8,"d":123.07,"v":97.92},{"i":9,"d":122.01,"v":97.685},{"i":10,"d":120.68,"v":97.548},{"i":11,"d":119.27,"v":97.476},{"i":12,"d":120.68,"v":97.401},{"i":13,"d":122.01,"v":97.274},{"i":14,"d":123.07,"v":97.059},{"i":15,"d":123.42,"v":96.824},{"i":16,"d":123.42,"v":94.75},{"i":17,"d":123.61,"v":94.554},{"i":18,"d":124.4,"v":94.378},{"i":19,"d":125.73,"v":94.261},{"i":20,"d":127.6,"v":94.193},{"i":21,"d":129.91,"v":94.169}
    ]
  },
  "layer": [
    {
      "data": {"name": "account"},
      "mark": {"type": "line", "color": "#00FFFF", "strokeWidth": 1.6},
      "encoding": {
        "x": {"field": "d", "type": "quantitative", "scale": {"domain": [1, 376], "nice": false, "zero": false},
              "axis": {"values": [1,31,61,91,121,151,181,211,241,271,301,331,361], "title": null}},
        "y": {"field": "a", "type": "quantitative", "scale": {"domain": [990000, 1100000], "nice": false, "zero": false},
              "axis": {"orient": "left", "values": [990000,1010000,1030000,1050000,1070000,1090000], "format": "d", "title": null}}
      }
    },
    {
      "layer": [
        {
          "data": {"values": [{}]},
          "mark": {"type": "rect", "color": "#992B20"},
          "encoding": {
            "x": {"datum": -42.4, "type": "quantitative", "scale": {"domain": [1, 376], "nice": false, "zero": false}, "axis": {"values": [1,31,61,91,121,151,181,211,241,271,301,331,361], "title": null}},
            "x2": {"datum": -38.1},
            "y": {"datum": 94.584, "type": "quantitative", "scale": {"domain": [88, 106], "nice": false, "zero": false}, "axis": {"orient": "right", "values": [88,90,92,94,96,98,100,102,104,106], "title": null}},
            "y2": {"datum": 94.281}
          }
        },
        {
          "data": {"values": [{}]},
          "mark": {"type": "rect", "color": "#676362"},
          "encoding": {
            "x": {"datum": -42.4, "type": "quantitative", "scale": {"domain": [1, 376], "nice": false, "zero": false}, "axis": {"values": [1,31,61,91,121,151,181,211,241,271,301,331,361], "title": null}},
            "x2": {"datum": -38.1},
            "y": {"datum": 94.226, "type": "quantitative", "scale": {"domain": [88, 106], "nice": false, "zero": false}, "axis": {"orient": "right", "values": [88,90,92,94,96,98,100,102,104,106], "title": null}},
            "y2": {"datum": 93.643}
          }
        },
        {
          "data": {"values": [{}]},
          "mark": {"type": "rect", "color": "#A58D6C"},
          "encoding": {
            "x": {"datum": -42.4, "type": "quantitative", "scale": {"domain": [1, 376], "nice": false, "zero": false}, "axis": {"values": [1,31,61,91,121,151,181,211,241,271,301,331,361], "title": null}},
            "x2": {"datum": -38.1},
            "y": {"datum": 93.539, "type": "quantitative", "scale": {"domain": [88, 106], "nice": false, "zero": false}, "axis": {"orient": "right", "values": [88,90,92,94,96,98,100,102,104,106], "title": null}},
            "y2": {"datum": 92.592}
          }
        },
        {
          "data": {"values": [{}]},
          "mark": {"type": "rect", "color": "#992B20"},
          "encoding": {
            "x": {"datum": -42.4, "type": "quantitative", "scale": {"domain": [1, 376], "nice": false, "zero": false}, "axis": {"values": [1,31,61,91,121,151,181,211,241,271,301,331,361], "title": null}},
            "x2": {"datum": -38.1},
            "y": {"datum": 92.496, "type": "quantitative", "scale": {"domain": [88, 106], "nice": false, "zero": false}, "axis": {"orient": "right", "values": [88,90,92,94,96,98,100,102,104,106], "title": null}},
            "y2": {"datum": 85.5}
          }
        },
        {
          "data": {"name": "actual"},
          "mark": {"type": "line", "color": "#000080", "strokeWidth": 1.4},
          "encoding": {
            "x": {"field": "d", "type": "quantitative", "scale": {"domain": [1, 376], "nice": false, "zero": false}, "axis": {"values": [1,31,61,91,121,151,181,211,241,271,301,331,361], "title": null}},
            "y": {"field": "v", "type": "quantitative", "scale": {"domain": [88, 106], "nice": false, "zero": false}, "axis": {"orient": "right", "values": [88,90,92,94,96,98,100,102,104,106], "title": null}},
            "detail": {"field": "s"}
          }
        },
        {
          "data": {"name": "synthetic"},
          "mark": {"type": "line", "color": "#FFFF00", "strokeWidth": 1.4},
          "encoding": {
            "x": {"field": "d", "type": "quantitative", "scale": {"domain": [1, 376], "nice": false, "zero": false}, "axis": {"values": [1,31,61,91,121,151,181,211,241,271,301,331,361], "title": null}},
            "y": {"field": "v", "type": "quantitative", "scale": {"domain": [88, 106], "nice": false, "zero": false}, "axis": {"orient": "right", "values": [88,90,92,94,96,98,100,102,104,106], "title": null}},
            "detail": {"field": "s"}
          }
        },
        {
          "data": {"values": [{"d": 121}, {"d": 250}]},
          "mark": {"type": "rule", "color": "#000000", "strokeWidth": 1.3},
          "encoding": {
            "x": {"field": "d", "type": "quantitative", "scale": {"domain": [1, 376], "nice": false, "zero": false}, "axis": {"values": [1,31,61,91,121,151,181,211,241,271,301,331,361], "title": null}},
            "y": {"datum": 105.9, "type": "quantitative", "scale": {"domain": [88, 106], "nice": false, "zero": false}, "axis": {"orient": "right", "values": [88,90,92,94,96,98,100,102,104,106], "title": null}},
            "y2": {"datum": 88}
          }
        },
        {
          "data": {"name": "brace"},
          "mark": {"type": "line", "color": "#333333", "strokeWidth": 4, "interpolate": "cardinal", "strokeCap": "round"},
          "encoding": {
            "x": {"field": "d", "type": "quantitative", "scale": {"domain": [1, 376], "nice": false, "zero": false}, "axis": {"values": [1,31,61,91,121,151,181,211,241,271,301,331,361], "title": null}},
            "y": {"field": "v", "type": "quantitative", "scale": {"domain": [88, 106], "nice": false, "zero": false}, "axis": {"orient": "right", "values": [88,90,92,94,96,98,100,102,104,106], "title": null}},
            "order": {"field": "i"}
          }
        },
        {
          "data": {"values": [{}]},
          "mark": {"type": "rule", "color": "#333333", "strokeWidth": 3},
          "encoding": {
            "x": {"datum": 172.5, "type": "quantitative", "scale": {"domain": [1, 376], "nice": false, "zero": false}, "axis": {"values": [1,31,61,91,121,151,181,211,241,271,301,331,361], "title": null}},
            "y": {"datum": 96.37, "type": "quantitative", "scale": {"domain": [88, 106], "nice": false, "zero": false}, "axis": {"orient": "right", "values": [88,90,92,94,96,98,100,102,104,106], "title": null}},
            "x2": {"datum": 161.5},
            "y2": {"datum": 96.9}
          }
        },
        {
          "data": {"values": [{}]},
          "mark": {"type": "rule", "color": "#333333", "strokeWidth": 3},
          "encoding": {
            "x": {"datum": 164.0, "type": "quantitative", "scale": {"domain": [1, 376], "nice": false, "zero": false}, "axis": {"values": [1,31,61,91,121,151,181,211,241,271,301,331,361], "title": null}},
            "y": {"datum": 93.2, "type": "quantitative", "scale": {"domain": [88, 106], "nice": false, "zero": false}, "axis": {"orient": "right", "values": [88,90,92,94,96,98,100,102,104,106], "title": null}},
            "x2": {"datum": 152.8},
            "y2": {"datum": 94.05}
          }
        },
        {
          "data": {"values": [{}]},
          "mark": {"type": "point", "shape": "triangle-up", "filled": true, "color": "#333333", "opacity": 1, "size": 200, "angle": 303},
          "encoding": {
            "x": {"datum": 161.2, "type": "quantitative", "scale": {"domain": [1, 376], "nice": false, "zero": false}, "axis": {"values": [1,31,61,91,121,151,181,211,241,271,301,331,361], "title": null}},
            "y": {"datum": 96.91, "type": "quantitative", "scale": {"domain": [88, 106], "nice": false, "zero": false}, "axis": {"orient": "right", "values": [88,90,92,94,96,98,100,102,104,106], "title": null}}
          }
        },
        {
          "data": {"values": [{}]},
          "mark": {"type": "point", "shape": "triangle-up", "filled": true, "color": "#333333", "opacity": 1, "size": 200, "angle": 315},
          "encoding": {
            "x": {"datum": 152.5, "type": "quantitative", "scale": {"domain": [1, 376], "nice": false, "zero": false}, "axis": {"values": [1,31,61,91,121,151,181,211,241,271,301,331,361], "title": null}},
            "y": {"datum": 94.07, "type": "quantitative", "scale": {"domain": [88, 106], "nice": false, "zero": false}, "axis": {"orient": "right", "values": [88,90,92,94,96,98,100,102,104,106], "title": null}}
          }
        },
        {
          "data": {"values": [{}]},
          "mark": {"type": "text", "text": "Illiquid long-term bond", "font": "Open Sans", "fontSize": 38.5, "color": "#262626", "align": "right", "baseline": "alphabetic"},
          "encoding": {
            "x": {"datum": 370.9, "type": "quantitative", "scale": {"domain": [1, 376], "nice": false, "zero": false}, "axis": {"values": [1,31,61,91,121,151,181,211,241,271,301,331,361], "title": null}},
            "y": {"datum": 106.33, "type": "quantitative", "scale": {"domain": [88, 106], "nice": false, "zero": false}, "axis": {"orient": "right", "values": [88,90,92,94,96,98,100,102,104,106], "title": null}}
          }
        },
        {
          "data": {"values": [{}]},
          "mark": {"type": "text", "text": "Bid", "fontSize": 46, "color": "#2e2e2e", "align": "left", "baseline": "alphabetic"},
          "encoding": {
            "x": {"datum": 392.9, "type": "quantitative", "scale": {"domain": [1, 376], "nice": false, "zero": false}, "axis": {"values": [1,31,61,91,121,151,181,211,241,271,301,331,361], "title": null}},
            "y": {"datum": 105.59, "type": "quantitative", "scale": {"domain": [88, 106], "nice": false, "zero": false}, "axis": {"orient": "right", "values": [88,90,92,94,96,98,100,102,104,106], "title": null}}
          }
        },
        {
          "data": {"values": [{}]},
          "mark": {"type": "text", "text": "Ask", "fontSize": 46, "color": "#2e2e2e", "align": "left", "baseline": "alphabetic"},
          "encoding": {
            "x": {"datum": 392.9, "type": "quantitative", "scale": {"domain": [1, 376], "nice": false, "zero": false}, "axis": {"values": [1,31,61,91,121,151,181,211,241,271,301,331,361], "title": null}},
            "y": {"datum": 104.46, "type": "quantitative", "scale": {"domain": [88, 106], "nice": false, "zero": false}, "axis": {"orient": "right", "values": [88,90,92,94,96,98,100,102,104,106], "title": null}}
          }
        },
        {
          "data": {"values": [{}]},
          "mark": {"type": "text", "text": "Short-term", "fontSize": 47, "color": "#2e2e2e", "align": "left", "baseline": "alphabetic"},
          "encoding": {
            "x": {"datum": 389.8, "type": "quantitative", "scale": {"domain": [1, 376], "nice": false, "zero": false}, "axis": {"values": [1,31,61,91,121,151,181,211,241,271,301,331,361], "title": null}},
            "y": {"datum": 100.44, "type": "quantitative", "scale": {"domain": [88, 106], "nice": false, "zero": false}, "axis": {"orient": "right", "values": [88,90,92,94,96,98,100,102,104,106], "title": null}}
          }
        },
        {
          "data": {"values": [{}]},
          "mark": {"type": "text", "text": "Bond:", "fontSize": 47, "color": "#2e2e2e", "align": "left", "baseline": "alphabetic"},
          "encoding": {
            "x": {"datum": 389.8, "type": "quantitative", "scale": {"domain": [1, 376], "nice": false, "zero": false}, "axis": {"values": [1,31,61,91,121,151,181,211,241,271,301,331,361], "title": null}},
            "y": {"datum": 99.31, "type": "quantitative", "scale": {"domain": [88, 106], "nice": false, "zero": false}, "axis": {"orient": "right", "values": [88,90,92,94,96,98,100,102,104,106], "title": null}}
          }
        },
        {
          "data": {"values": [{}]},
          "mark": {"type": "text", "text": "•actual", "fontSize": 47, "color": "#0000FF", "align": "left", "baseline": "alphabetic"},
          "encoding": {
            "x": {"datum": 389.8, "type": "quantitative", "scale": {"domain": [1, 376], "nice": false, "zero": false}, "axis": {"values": [1,31,61,91,121,151,181,211,241,271,301,331,361], "title": null}},
            "y": {"datum": 98.17, "type": "quantitative", "scale": {"domain": [88, 106], "nice": false, "zero": false}, "axis": {"orient": "right", "values": [88,90,92,94,96,98,100,102,104,106], "title": null}}
          }
        },
        {
          "data": {"values": [{}]},
          "mark": {"type": "text", "text": "•synthetic", "fontSize": 47, "color": "#FFCC00", "align": "left", "baseline": "alphabetic"},
          "encoding": {
            "x": {"datum": 389.8, "type": "quantitative", "scale": {"domain": [1, 376], "nice": false, "zero": false}, "axis": {"values": [1,31,61,91,121,151,181,211,241,271,301,331,361], "title": null}},
            "y": {"datum": 97.04, "type": "quantitative", "scale": {"domain": [88, 106], "nice": false, "zero": false}, "axis": {"orient": "right", "values": [88,90,92,94,96,98,100,102,104,106], "title": null}}
          }
        },
        {
          "data": {"values": [{}]},
          "mark": {"type": "text", "text": "days", "fontSize": 46, "color": "#2e2e2e", "align": "left", "baseline": "alphabetic"},
          "encoding": {
            "x": {"datum": 366.0, "type": "quantitative", "scale": {"domain": [1, 376], "nice": false, "zero": false}, "axis": {"values": [1,31,61,91,121,151,181,211,241,271,301,331,361], "title": null}},
            "y": {"datum": 86.81, "type": "quantitative", "scale": {"domain": [88, 106], "nice": false, "zero": false}, "axis": {"orient": "right", "values": [88,90,92,94,96,98,100,102,104,106], "title": null}}
          }
        },
        {
          "data": {"values": [{}]},
          "mark": {"type": "text", "text": "computer", "fontSize": 47, "color": "#2e2e2e", "align": "center", "baseline": "alphabetic"},
          "encoding": {
            "x": {"datum": 199.9, "type": "quantitative", "scale": {"domain": [1, 376], "nice": false, "zero": false}, "axis": {"values": [1,31,61,91,121,151,181,211,241,271,301,331,361], "title": null}},
            "y": {"datum": 96.49, "type": "quantitative", "scale": {"domain": [88, 106], "nice": false, "zero": false}, "axis": {"orient": "right", "values": [88,90,92,94,96,98,100,102,104,106], "title": null}}
          }
        },
        {
          "data": {"values": [{}]},
          "mark": {"type": "text", "text": "traders", "fontSize": 47, "color": "#2e2e2e", "align": "center", "baseline": "alphabetic"},
          "encoding": {
            "x": {"datum": 199.9, "type": "quantitative", "scale": {"domain": [1, 376], "nice": false, "zero": false}, "axis": {"values": [1,31,61,91,121,151,181,211,241,271,301,331,361], "title": null}},
            "y": {"datum": 95.38, "type": "quantitative", "scale": {"domain": [88, 106], "nice": false, "zero": false}, "axis": {"orient": "right", "values": [88,90,92,94,96,98,100,102,104,106], "title": null}}
          }
        },
        {
          "data": {"values": [{}]},
          "mark": {"type": "text", "text": ">$4", "fontSize": 47, "color": "#2e2e2e", "align": "center", "baseline": "alphabetic"},
          "encoding": {
            "x": {"datum": 107.6, "type": "quantitative", "scale": {"domain": [1, 376], "nice": false, "zero": false}, "axis": {"values": [1,31,61,91,121,151,181,211,241,271,301,331,361], "title": null}},
            "y": {"datum": 97.01, "type": "quantitative", "scale": {"domain": [88, 106], "nice": false, "zero": false}, "axis": {"orient": "right", "values": [88,90,92,94,96,98,100,102,104,106], "title": null}}
          }
        },
        {
          "data": {"values": [{}]},
          "mark": {"type": "text", "text": "students", "fontSize": 47, "color": "#2e2e2e", "align": "center", "baseline": "alphabetic"},
          "encoding": {
            "x": {"datum": 167.7, "type": "quantitative", "scale": {"domain": [1, 376], "nice": false, "zero": false}, "axis": {"values": [1,31,61,91,121,151,181,211,241,271,301,331,361], "title": null}},
            "y": {"datum": 92.44, "type": "quantitative", "scale": {"domain": [88, 106], "nice": false, "zero": false}, "axis": {"orient": "right", "values": [88,90,92,94,96,98,100,102,104,106], "title": null}}
          }
        },
        {
          "data": {"values": [{}]},
          "mark": {"type": "text", "text": "average", "fontSize": 37, "color": "#00CCFF", "align": "left", "baseline": "alphabetic"},
          "encoding": {
            "x": {"datum": -35.0, "type": "quantitative", "scale": {"domain": [1, 376], "nice": false, "zero": false}, "axis": {"values": [1,31,61,91,121,151,181,211,241,271,301,331,361], "title": null}},
            "y": {"datum": 89.53, "type": "quantitative", "scale": {"domain": [88, 106], "nice": false, "zero": false}, "axis": {"orient": "right", "values": [88,90,92,94,96,98,100,102,104,106], "title": null}}
          }
        },
        {
          "data": {"values": [{}]},
          "mark": {"type": "text", "text": "account", "fontSize": 37, "color": "#00CCFF", "align": "left", "baseline": "alphabetic"},
          "encoding": {
            "x": {"datum": -35.0, "type": "quantitative", "scale": {"domain": [1, 376], "nice": false, "zero": false}, "axis": {"values": [1,31,61,91,121,151,181,211,241,271,301,331,361], "title": null}},
            "y": {"datum": 88.63, "type": "quantitative", "scale": {"domain": [88, 106], "nice": false, "zero": false}, "axis": {"orient": "right", "values": [88,90,92,94,96,98,100,102,104,106], "title": null}}
          }
        }
      ]
    }
  ],
  "resolve": {"scale": {"y": "independent"}, "axis": {"y": "independent"}}
}
